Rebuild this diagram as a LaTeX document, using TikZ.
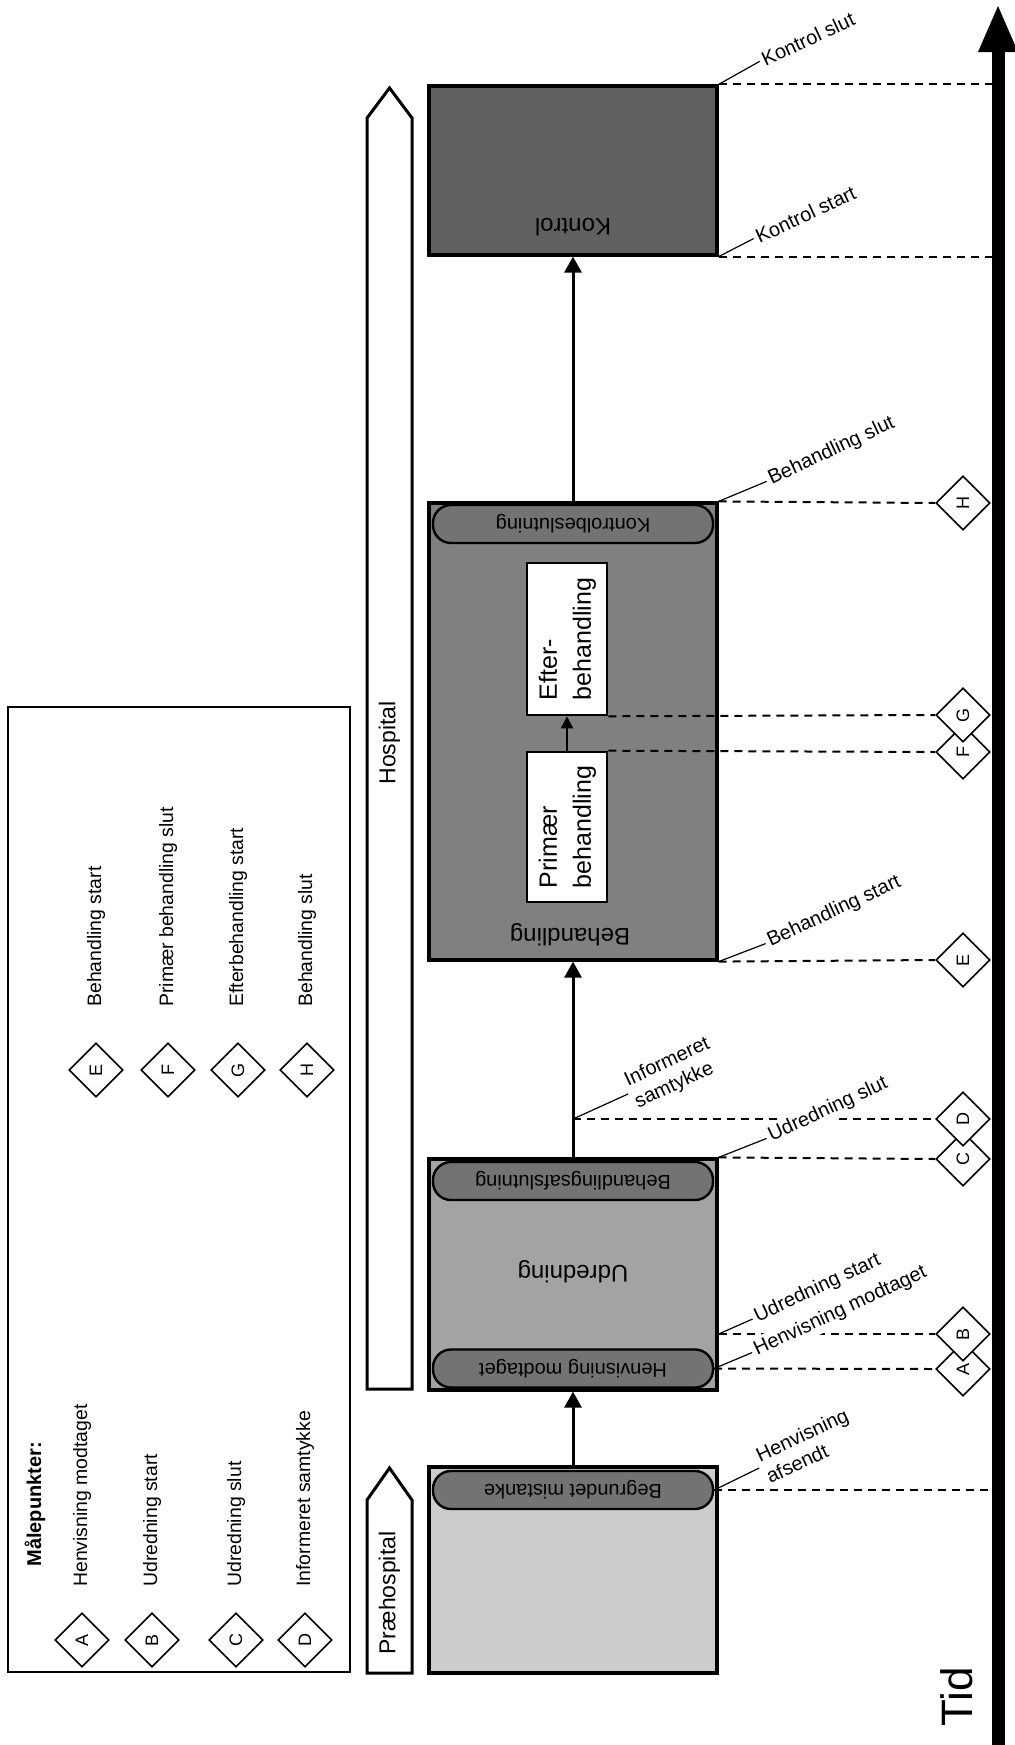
\documentclass[tikz,border=0pt]{standalone}
\usepackage{fontspec}
\setmainfont{Liberation Sans}
\usetikzlibrary{shapes.geometric,arrows.meta}

\begin{document}
\begin{tikzpicture}[x=0.5pt, y=-0.5pt,
    fase/.style={draw, line width=1.6pt, minimum width=144pt, inner sep=0pt},
    pille/.style={draw, line width=1.2pt, rounded corners=9pt, fill=black!55, minimum width=140pt, minimum height=19pt, inner sep=0pt, font=\fontsize{10}{11}\selectfont},
    hvid/.style={draw, line width=1.3pt, fill=white, minimum width=40pt, inner sep=0pt, font=\fontsize{12.5}{17}\selectfont},
    titel/.style={rotate=180, inner sep=1pt, font=\fontsize{12}{14}\selectfont},
    punkt/.style={diamond, draw, line width=0.8pt, fill=white, minimum width=27pt, minimum height=27pt, inner sep=0pt, font=\fontsize{9}{10}\selectfont},
    maal/.style={rotate=25, anchor=west, inner sep=1.5pt, fill=white, align=left, font=\fontsize{10}{12}\selectfont},
    tekst/.style={rotate=90, anchor=west, inner sep=0pt, font=\fontsize{9.7}{11}\selectfont},
    stiplet/.style={line width=1pt, dash pattern=on 4pt off 3pt},
    leder/.style={line width=0.6pt},
    pil/.style={line width=1.5pt, -{Triangle[length=8pt,width=8.5pt]}},
    rammepil/.style={draw, line width=1.5pt, fill=white}
]
\useasboundingbox (0,0) rectangle (1014,1745);

% legend
\draw[line width=1pt] (8,707) rectangle (350,1672);
\node[tekst, font=\bfseries\fontsize{10}{12}\selectfont] (lmaal) at (35,1567) {Målepunkter:};
\foreach \navn/\x/\txt in {A/82/Henvisning modtaget, B/152/Udredning start, C/236/Udredning slut, D/305/Informeret samtykke}{
    \node[punkt] (l\navn) at (\x,1640) {\rotatebox{90}{\navn}};
    \node[tekst] (t\navn) at (\x,1587) {\txt};
}
\foreach \navn/\x/\txt in {E/96/Behandling start, F/168/Primær behandling slut, G/238/Efterbehandling start, H/307/Behandling slut}{
    \node[punkt] (l\navn) at (\x,1070) {\rotatebox{90}{\navn}};
    \node[tekst] (t\navn) at (\x,1007) {\txt};
}

% Praehospital / Hospital
\draw[rammepil] (367,1673) -- (367,1500) -- (389.5,1468) -- (412,1500) -- (412,1673) -- cycle;
\node[rotate=90, font=\fontsize{11.5}{13}\selectfont] (praetekst) at (389.5,1593) {Præhospital};
\draw[rammepil] (367,1389) -- (367,118) -- (389.5,88) -- (412,118) -- (412,1389) -- cycle;
\node[rotate=90, font=\fontsize{11.5}{13}\selectfont] (hosptekst) at (389.5,743) {Hospital};

% faser
\node[fase, fill=black!20, minimum height=103pt] (praehosp) at (573,1570) {};
\node[fase, fill=black!36, minimum height=115.5pt] (udredning) at (573,1274.5) {};
\node[fase, fill=black!50, minimum height=228.5pt] (behandling) at (573,731.5) {};
\node[fase, fill=black!62, minimum height=84.5pt] (kontrol) at (573,170.5) {};

\node[pille] (mistanke) at (573,1490) {\rotatebox{180}{Begrundet mistanke}};
\node[pille] (henvmod) at (573,1368.5) {\rotatebox{180}{Henvisning modtaget}};
\node[pille] (afslut) at (573,1181) {\rotatebox{180}{Behandlingsafslutning}};
\node[pille] (kbeslut) at (573,524) {\rotatebox{180}{Kontrolbeslutning}};

\node[titel] (tudr) at (573,1272) {Udredning};
\node[titel] (tbeh) at (570,935) {Behandling};
\node[titel] (tkon) at (573,227) {Kontrol};

\node[hvid, minimum height=75pt] (primaer) at (567,827) {\rotatebox{90}{\begin{tabular}{@{}l@{}}Primær\\behandling\end{tabular}}};
\node[hvid, minimum height=76pt] (efter) at (567,639) {\rotatebox{90}{\begin{tabular}{@{}l@{}}Efter-\\behandling\end{tabular}}};
\draw[line width=1pt, -{Triangle[length=6pt,width=6pt]}] (primaer) -- (efter);

\draw[pil] (praehosp) -- (udredning);
\draw[pil] (udredning) -- (behandling);
\draw[pil] (behandling) -- (kontrol);
\coordinate (samtykke) at (573,1119);

% tidsakse
\coordinate (tidbund) at (998,1745);
\coordinate (tidhals) at (998,52);
\coordinate (tidtop) at (998,6);

\foreach \navn/\y in {A/1369, B/1334, C/1159, D/1119, E/960, F/752, G/715, H/503}
    \node[punkt] (\navn) at (963,\y) {\rotatebox{90}{\navn}};

\draw[stiplet] (kontrol.north east) -- (kontrol.north east -| tidbund);
\draw[stiplet] (kontrol.south east) -- (kontrol.south east -| tidbund);
\draw[stiplet] (behandling.north east) -- (H.west);
\draw[stiplet] (efter.south east) -- (G.west);
\draw[stiplet] (primaer.north east) -- (F.west);
\draw[stiplet] (behandling.south east) -- (E.west);
\draw[stiplet] (samtykke) -- (D.west);
\draw[stiplet] (udredning.north east) -- (C.west);
\draw[stiplet] (B.west -| udredning.east) -- (B.west);
\draw[stiplet] (henvmod.east) -- (A.west);
\draw[stiplet] (mistanke.east) -- (mistanke.east -| tidbund);

\draw[line width=6.5pt] (tidbund) -- (tidhals);
\fill ([xshift=-10pt]tidhals) -- (tidtop) -- ([xshift=10pt]tidhals) -- cycle;
\node[rotate=90, font=\fontsize{22}{26}\selectfont] (tid) at (957,1697) {Tid};

% maalepunkt-etiketter
\node[maal] (lkslut) at ([shift={(20.5pt,11.5pt)}]kontrol.north east) {Kontrol slut};
\draw[leder] (kontrol.north east) -- (lkslut.west);
\node[maal] (lkstart) at ([shift={(17.5pt,9pt)}]kontrol.south east) {Kontrol start};
\draw[leder] (kontrol.south east) -- (lkstart.west);
\node[maal] (lbslut) at ([shift={(24pt,10pt)}]behandling.north east) {Behandling slut};
\draw[leder] (behandling.north east) -- (lbslut.west);
\node[maal] (lbstart) at ([shift={(23.5pt,9pt)}]behandling.south east) {Behandling start};
\draw[leder] (behandling.south east) -- (lbstart.west);
\node[maal] (lsamt) at ([shift={(27.5pt,12.5pt)}]samtykke) {Informeret\\samtykke};
\draw[leder] (samtykke) -- (lsamt.west);
\node[maal] (luslut) at ([shift={(24pt,9.5pt)}]udredning.north east) {Udredning slut};
\draw[leder] (udredning.north east) -- (luslut.west);
\coordinate (ustart) at (B.west -| udredning.east);
\node[maal] (lustart) at ([shift={(17pt,7.5pt)}]ustart) {Udredning start};
\draw[leder] (ustart) -- (lustart.west);
\node[maal] (lhmodt) at ([shift={(19pt,8pt)}]henvmod.east) {Henvisning modtaget};
\draw[leder] (henvmod.east) -- (lhmodt.west);
\node[maal] (lhafs) at ([shift={(22.5pt,11pt)}]mistanke.east) {Henvisning\\afsendt};
\draw[leder] (mistanke.east) -- (lhafs.west);
\end{tikzpicture}
\end{document}
